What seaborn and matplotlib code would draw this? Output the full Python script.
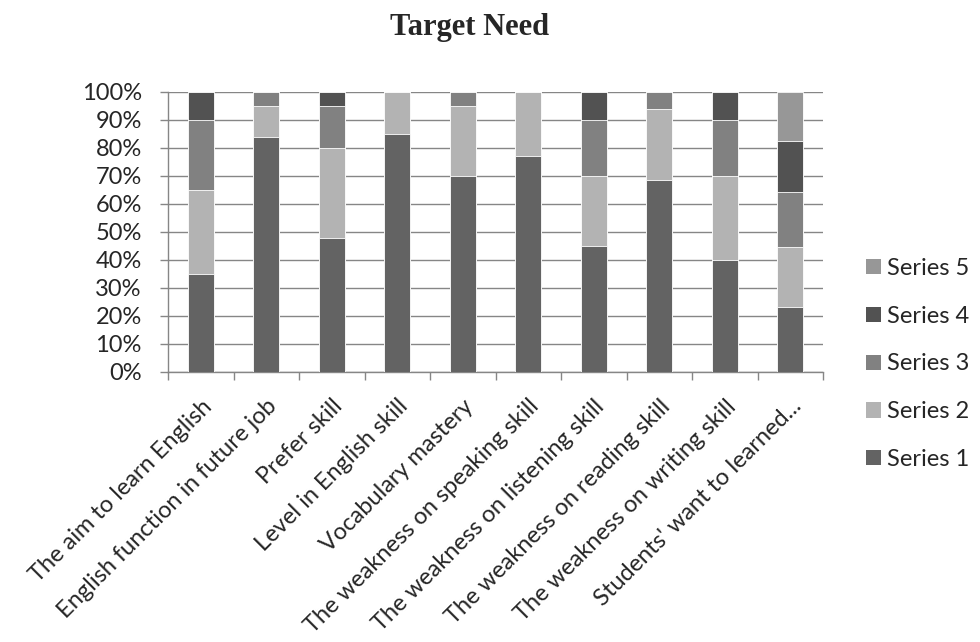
import matplotlib
matplotlib.use("Agg")
import matplotlib.pyplot as plt
import seaborn as sns
import numpy as np
from matplotlib.patches import Patch
from matplotlib.ticker import PercentFormatter, FixedLocator

sns.set_theme(style="white")
plt.rcParams['font.family'] = ['Lato', 'DejaVu Sans']

categories = ["The aim to learn English", "English function in future job", "Prefer skill",
              "Level in English skill", "Vocabulary mastery", "The weakness on speaking skill",
              "The weakness on listening skill", "The weakness on reading skill",
              "The weakness on writing skill", "Students' want to learned..."]
series_names = ["Series 1", "Series 2", "Series 3", "Series 4", "Series 5"]
series1 = [35, 84, 48, 85, 70, 77, 45, 68.7, 40, 23.2]
series2 = [30, 11, 32, 15, 25, 23, 25, 25.2, 30, 21.3]
series3 = [25, 5, 15, 0, 5, 0, 20, 6.1, 20, 19.7]
series4 = [10, 0, 5, 0, 0, 0, 10, 0, 10, 18.3]
series5 = [0, 0, 0, 0, 0, 0, 0, 0, 0, 17.5]
colors = ["#636363", "#b3b3b3", "#818181", "#525252", "#979797"]

values = np.array([series1, series2, series3, series4, series5]) / 100.0
cum = values.cumsum(axis=0)

fig = plt.figure(figsize=(9.8, 6.42), dpi=100)
ax = fig.add_axes([168 / 980, 1 - 372 / 642, 655 / 980, 280 / 642])

# stacked bars: draw tallest cumulative first, then overlay lower ones
for i in range(4, -1, -1):
    sns.barplot(x=categories, y=cum[i], color=colors[i], width=0.4, ax=ax,
                saturation=1, edgecolor="white", linewidth=0.6, zorder=3)

ax.set_xlim(-0.5, 9.5)
ax.set_ylim(0, 1)
ax.yaxis.set_major_locator(FixedLocator(np.arange(0, 1.01, 0.1)))
ax.yaxis.set_major_formatter(PercentFormatter(1.0, decimals=0))
ax.grid(axis="y", color="#868686", linewidth=1, zorder=0)
ax.set_axisbelow(True)

for s in ["top", "right"]:
    ax.spines[s].set_visible(False)
for s in ["left", "bottom"]:
    ax.spines[s].set_color("#868686")
    ax.spines[s].set_linewidth(1)

ax.tick_params(axis="y", direction="out", length=5.8, width=1, color="#868686",
               pad=13, labelsize=17, left=True)
ax.set_xticks(np.arange(10))
ax.set_xticklabels(categories, rotation=45, ha="right", rotation_mode="anchor", fontsize=17)
ax.tick_params(axis="x", which="major", length=0, pad=17)
ax.set_xticks(np.arange(-0.5, 10, 1), minor=True)
ax.tick_params(axis="x", which="minor", direction="out", length=5.8, width=1,
               color="#868686", bottom=True)
ax.set_xlabel("")
ax.set_ylabel("")

fig.text(470 / 980, 1 - 27 / 642, "Target Need", ha="center", va="center",
         fontsize=22, fontweight="bold", family="Liberation Serif")

handles = [Patch(facecolor=colors[i], edgecolor="none") for i in range(4, -1, -1)]
labels = [series_names[i] for i in range(4, -1, -1)]
fig.legend(handles, labels, loc="center left", bbox_to_anchor=(866 / 980, 1 - 364 / 642),
           frameon=False, fontsize=17, handlelength=0.62, handleheight=0.62,
           handletextpad=0.25, labelspacing=1.13, borderpad=0, borderaxespad=0)

fig.savefig("out.png", dpi=100)
